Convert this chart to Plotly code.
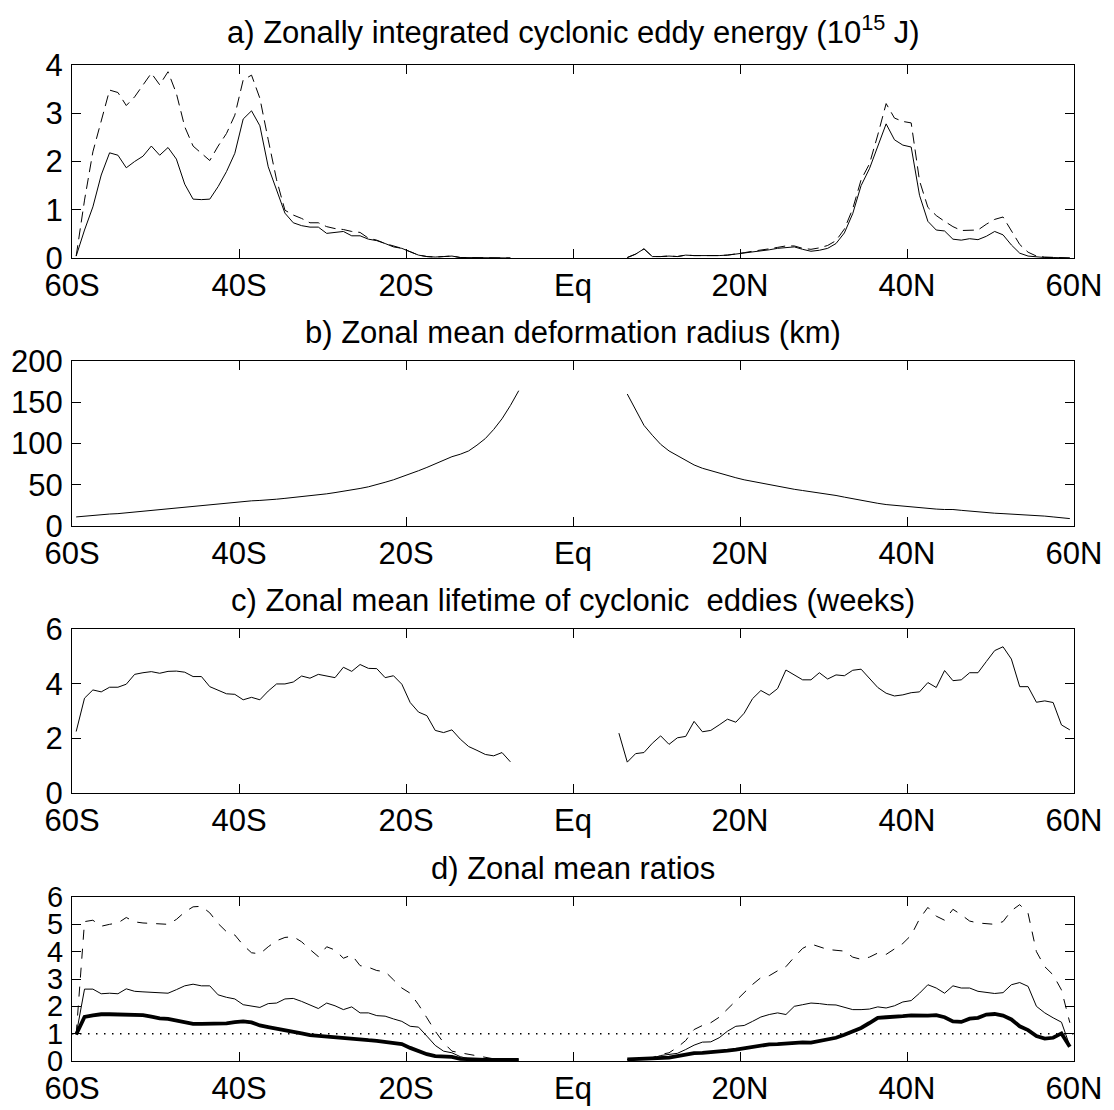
import numpy as np
import plotly.graph_objects as go

# ---------------- data ----------------
# latitude grids (degrees, negative = south)
lat_sh_a = np.arange(-59.5, -7.0, 1.0)   # -59.5 .. -7.5
lat_nh_a = np.arange(6.5, 60.0, 1.0)     # 6.5 .. 59.5
lat_sh_b = np.arange(-59.5, -6.0, 1.0)   # -59.5 .. -6.5
lat_nh_b = np.arange(6.5, 60.0, 1.0)
lat_sh_c = np.arange(-59.5, -7.0, 1.0)
lat_nh_c = np.arange(5.5, 60.0, 1.0)
lat_sh_d = np.arange(-59.5, -6.0, 1.0)
lat_nh_d = np.arange(6.5, 60.0, 1.0)

# a) zonally integrated cyclonic eddy energy (10^15 J)
energy_solid_sh = [0.04, 0.58, 1.06, 1.72, 2.18, 2.13, 1.87, 2.00, 2.11, 2.32,
                   2.13, 2.29, 2.05, 1.53, 1.22, 1.21, 1.22, 1.48, 1.79, 2.17,
                   2.88, 3.05, 2.74, 1.89, 1.41, 0.93, 0.73, 0.67, 0.64, 0.64,
                   0.51, 0.53, 0.55, 0.46, 0.46, 0.39, 0.36, 0.30, 0.23, 0.20,
                   0.13, 0.06, 0.03, 0.02, 0.03, 0.04, 0.01, 0.01, 0.01, 0.00,
                   0.00, 0.00, 0.00]
energy_dash_sh = [0.04, 1.20, 2.20, 2.85, 3.48, 3.43, 3.16, 3.34, 3.59, 3.83,
                  3.59, 3.86, 3.41, 2.72, 2.32, 2.17, 2.02, 2.32, 2.58, 2.96,
                  3.69, 3.79, 3.31, 2.45, 1.62, 0.99, 0.89, 0.82, 0.73, 0.73,
                  0.65, 0.61, 0.59, 0.55, 0.53, 0.41, 0.37, 0.30, 0.25, 0.20,
                  0.13, 0.06, 0.03, 0.02, 0.03, 0.04, 0.01, 0.01, 0.01, 0.00,
                  0.00, 0.00, 0.00]
energy_solid_nh = [0.01, 0.08, 0.19, 0.03, 0.03, 0.04, 0.03, 0.06, 0.05, 0.05,
                   0.04, 0.05, 0.06, 0.08, 0.10, 0.13, 0.15, 0.17, 0.20, 0.22,
                   0.23, 0.18, 0.14, 0.16, 0.20, 0.30, 0.52, 0.92, 1.50, 1.85,
                   2.30, 2.78, 2.45, 2.34, 2.30, 1.30, 0.76, 0.58, 0.56, 0.39,
                   0.37, 0.40, 0.38, 0.45, 0.55, 0.48, 0.27, 0.10, 0.04, 0.02,
                   0.01, 0.01, 0.01, 0.00]
energy_dash_nh = [0.01, 0.08, 0.19, 0.03, 0.03, 0.04, 0.03, 0.06, 0.05, 0.05,
                  0.04, 0.05, 0.06, 0.08, 0.11, 0.14, 0.16, 0.19, 0.22, 0.25,
                  0.25, 0.20, 0.18, 0.21, 0.26, 0.36, 0.60, 1.02, 1.62, 1.95,
                  2.55, 3.20, 2.90, 2.83, 2.80, 1.60, 1.05, 0.88, 0.76, 0.65,
                  0.57, 0.58, 0.58, 0.70, 0.80, 0.85, 0.55, 0.28, 0.12, 0.04,
                  0.02, 0.01, 0.01, 0.00]

# b) zonal mean deformation radius (km)
radius_sh = [11, 12, 13, 13.5, 14.5, 15, 16, 17, 17.5, 18.5,
             19.5, 20.5, 21.5, 22.5, 23.5, 24.5, 25.5, 26.5, 27.5, 28.5,
             29.5, 30.5, 31, 31.5, 32.5, 33.5, 34.5, 35.5, 36.5, 37.5,
             39, 40.5, 42, 43.5, 45.5, 47.5, 50, 53, 56, 59.5,
             63, 67, 71, 75.5, 80, 84, 87, 91, 98, 106,
             117, 130, 146, 164]
radius_nh = [160, 140, 122, 110, 99, 91, 85, 79, 74, 70,
             67, 64, 61, 58.5, 56, 54, 52, 50, 48, 46,
             44.5, 43, 41.5, 40.5, 39, 37, 35, 33, 31, 29,
             27.5, 26, 25, 24, 23, 22, 21, 20.5, 20, 20,
             19, 18, 17, 16, 15.5, 15, 14.5, 14, 13.5, 13,
             12, 11, 10, 9]

# c) zonal mean lifetime of cyclonic eddies (weeks)
life_sh = [2.25, 3.47, 3.77, 3.70, 3.87, 3.87, 3.98, 4.34, 4.40, 4.44,
           4.38, 4.45, 4.46, 4.42, 4.26, 4.26, 3.89, 3.77, 3.63, 3.61,
           3.41, 3.50, 3.41, 3.73, 3.99, 3.99, 4.06, 4.28, 4.20, 4.34,
           4.29, 4.22, 4.60, 4.45, 4.70, 4.56, 4.55, 4.22, 4.29, 3.98,
           3.31, 2.96, 2.83, 2.29, 2.21, 2.31, 1.97, 1.70, 1.56, 1.41,
           1.36, 1.48, 1.14]
life_nh = [2.19, 1.13, 1.44, 1.48, 1.82, 2.09, 1.78, 2.02, 2.07, 2.62,
           2.24, 2.29, 2.49, 2.70, 2.59, 2.92, 3.45, 3.75, 3.58, 3.82,
           4.50, 4.32, 4.14, 4.14, 4.40, 4.17, 4.32, 4.29, 4.49, 4.53,
           4.20, 3.86, 3.65, 3.55, 3.59, 3.67, 3.70, 4.04, 3.86, 4.48,
           4.11, 4.14, 4.40, 4.40, 4.81, 5.21, 5.35, 4.90, 3.89, 3.89,
           3.32, 3.37, 3.31, 2.49, 2.31]

# d) zonal mean ratios
ratio_thick_sh = [0.97, 1.61, 1.67, 1.71, 1.71, 1.71, 1.71, 1.71, 1.68, 1.62,
                  1.56, 1.54, 1.49, 1.42, 1.36, 1.36, 1.36, 1.35, 1.38, 1.42,
                  1.45, 1.41, 1.30, 1.24, 1.19, 1.13, 1.07, 1.01, 0.95, 0.92,
                  0.88, 0.85, 0.82, 0.80, 0.79, 0.76, 0.74, 0.69, 0.64, 0.62,
                  0.48, 0.36, 0.25, 0.18, 0.16, 0.15, 0.08, 0.06, 0.05, 0.04,
                  0.04, 0.04, 0.04, 0.04]
ratio_thin_sh = [0.97, 2.63, 2.63, 2.46, 2.48, 2.46, 2.64, 2.55, 2.53, 2.51,
                 2.48, 2.48, 2.61, 2.75, 2.81, 2.75, 2.75, 2.42, 2.33, 2.27,
                 2.06, 2.00, 1.96, 2.10, 2.12, 2.27, 2.29, 2.18, 2.04, 1.92,
                 2.12, 2.02, 1.88, 1.98, 1.76, 1.76, 1.66, 1.64, 1.54, 1.45,
                 1.27, 1.24, 0.91, 0.57, 0.36, 0.30, 0.16, 0.08, 0.06, 0.05,
                 0.05, 0.04, 0.04, 0.04]
ratio_dash_sh = [0.97, 5.10, 5.15, 4.93, 5.00, 5.05, 5.25, 5.09, 5.05, 5.03,
                 5.00, 5.00, 5.18, 5.45, 5.64, 5.66, 5.42, 5.03, 4.73, 4.61,
                 4.24, 3.96, 3.92, 4.18, 4.40, 4.52, 4.55, 4.36, 4.08, 3.82,
                 4.18, 4.06, 3.76, 3.88, 3.49, 3.43, 3.31, 3.27, 2.97, 2.67,
                 2.48, 2.06, 1.58, 1.09, 0.67, 0.36, 0.30, 0.24, 0.18, 0.12,
                 0.08, 0.05, 0.04, 0.04]
ratio_thick_nh = [0.06, 0.07, 0.08, 0.10, 0.10, 0.12, 0.18, 0.24, 0.29, 0.30,
                  0.32, 0.34, 0.38, 0.42, 0.47, 0.51, 0.57, 0.61, 0.62, 0.64,
                  0.67, 0.68, 0.67, 0.72, 0.78, 0.85, 0.96, 1.09, 1.21, 1.39,
                  1.58, 1.60, 1.61, 1.64, 1.67, 1.65, 1.66, 1.68, 1.60, 1.45,
                  1.43, 1.55, 1.58, 1.70, 1.72, 1.66, 1.52, 1.27, 1.13, 0.91,
                  0.82, 0.85, 1.01, 0.52]
ratio_thin_nh = [0.05, 0.06, 0.08, 0.10, 0.20, 0.24, 0.28, 0.42, 0.58, 0.69,
                 0.70, 0.85, 1.09, 1.27, 1.30, 1.45, 1.61, 1.70, 1.76, 1.70,
                 2.00, 2.06, 2.12, 2.10, 2.06, 2.05, 1.96, 1.88, 1.88, 1.90,
                 1.98, 1.94, 2.02, 2.16, 2.21, 2.48, 2.79, 2.67, 2.48, 2.75,
                 2.67, 2.67, 2.55, 2.52, 2.47, 2.50, 2.79, 2.87, 2.73, 2.00,
                 1.76, 1.58, 1.42, 0.55]
ratio_dash_nh = [0.05, 0.06, 0.08, 0.12, 0.24, 0.30, 0.50, 0.75, 1.15, 1.30,
                 1.40, 1.60, 1.90, 2.20, 2.50, 2.80, 3.05, 3.12, 3.30, 3.45,
                 3.80, 4.12, 4.28, 4.18, 4.08, 4.05, 4.02, 3.80, 3.72, 3.80,
                 3.95, 3.90, 4.10, 4.30, 4.60, 5.20, 5.62, 5.30, 5.15, 5.55,
                 5.35, 5.12, 5.05, 5.03, 5.00, 5.10, 5.50, 5.72, 5.40, 4.00,
                 3.45, 3.15, 2.60, 1.40]
ratio_ref_lat = [-60, 60]
ratio_ref_val = [1, 1]

# axis labels / titles
lat_ticks = [-60, -40, -20, 0, 20, 40, 60]
lat_labels = ["60S", "40S", "20S", "Eq", "20N", "40N", "60N"]
titles = ["a) Zonally integrated cyclonic eddy energy (10<sup>15</sup> J)",
          "b) Zonal mean deformation radius (km)",
          "c) Zonal mean lifetime of cyclonic  eddies (weeks)",
          "d) Zonal mean ratios"]
y_ranges = [(0, 4), (0, 200), (0, 6), (0, 6)]
y_dticks = [1, 50, 2, 1]

# ---------------- layout geometry (pixels) ----------------
W, H = 1114, 1110
X0, X1 = 72, 1074
panels_px = [(65, 258), (361, 526), (629, 793), (897, 1061)]   # (top, bottom)
title_y_px = [30, 332, 600, 868]

FONT = "Liberation Sans, Arial, Helvetica, sans-serif"

fig = go.Figure()

def add_line(x, y, idx, dash="solid", width=1.0):
    ax = "" if idx == 0 else str(idx + 1)
    fig.add_trace(go.Scatter(x=list(x), y=y, mode="lines",
                             line=dict(color="black", width=width, dash=dash),
                             xaxis="x" + ax, yaxis="y" + ax,
                             showlegend=False, hoverinfo="skip"))

DASH_A = "11px,6px"
DASH_D = "10px,9px"

# panel a
add_line(lat_sh_a, energy_dash_sh, 0, DASH_A)
add_line(lat_nh_a, energy_dash_nh, 0, DASH_A)
add_line(lat_sh_a, energy_solid_sh, 0)
add_line(lat_nh_a, energy_solid_nh, 0)
# panel b
add_line(lat_sh_b, radius_sh, 1)
add_line(lat_nh_b, radius_nh, 1)
# panel c
add_line(lat_sh_c, life_sh, 2)
add_line(lat_nh_c, life_nh, 2)
# panel d
add_line(ratio_ref_lat, ratio_ref_val, 3, "1.5px,6.5px", 1.5)
add_line(lat_sh_d, ratio_dash_sh, 3, DASH_D)
add_line(lat_nh_d, ratio_dash_nh, 3, DASH_D)
add_line(lat_sh_d, ratio_thin_sh, 3)
add_line(lat_nh_d, ratio_thin_nh, 3)
add_line(lat_sh_d, ratio_thick_sh, 3, "solid", 3.8)
add_line(lat_nh_d, ratio_thick_nh, 3, "solid", 3.8)

axis_common = dict(showline=True, linecolor="black", linewidth=1.2, mirror="ticks",
                   ticks="inside", ticklen=9, tickwidth=1, tickcolor="black",
                   showgrid=False, zeroline=False, automargin=False)

ML, MR = X0, W - X1
layout = dict(width=W, height=H, margin=dict(l=ML, r=MR, t=0, b=0, pad=0, autoexpand=False),
              paper_bgcolor="white", plot_bgcolor="white",
              font=dict(family=FONT, color="black"), annotations=[])

y_tick_sizes = [31, 31, 31, 29]

for i, (top, bot) in enumerate(panels_px):
    ax = "" if i == 0 else str(i + 1)
    layout["xaxis" + ax] = dict(axis_common, domain=[0, 1],
                                range=[-60, 60], tickmode="array",
                                tickvals=lat_ticks, ticktext=lat_labels,
                                anchor="y" + ax, ticklabelstandoff=0,
                                tickfont=dict(family=FONT, size=31, color="black"))
    layout["yaxis" + ax] = dict(axis_common, domain=[1 - bot / H, 1 - top / H],
                                range=list(y_ranges[i]), dtick=y_dticks[i],
                                tick0=0, anchor="x" + ax, ticklabelstandoff=2,
                                tickfont=dict(family=FONT, size=y_tick_sizes[i], color="black"))
    layout["annotations"].append(dict(text=titles[i], x=0.5,
                                      y=1 - title_y_px[i] / H, xref="paper", yref="paper",
                                      xanchor="center", yanchor="middle", showarrow=False,
                                      font=dict(family=FONT, size=31, color="black")))

fig.update_layout(**layout)

fig.write_html("out.html", config={"displayModeBar": False},
               post_script="document.body.style.margin='0';document.body.style.overflow='hidden';")
